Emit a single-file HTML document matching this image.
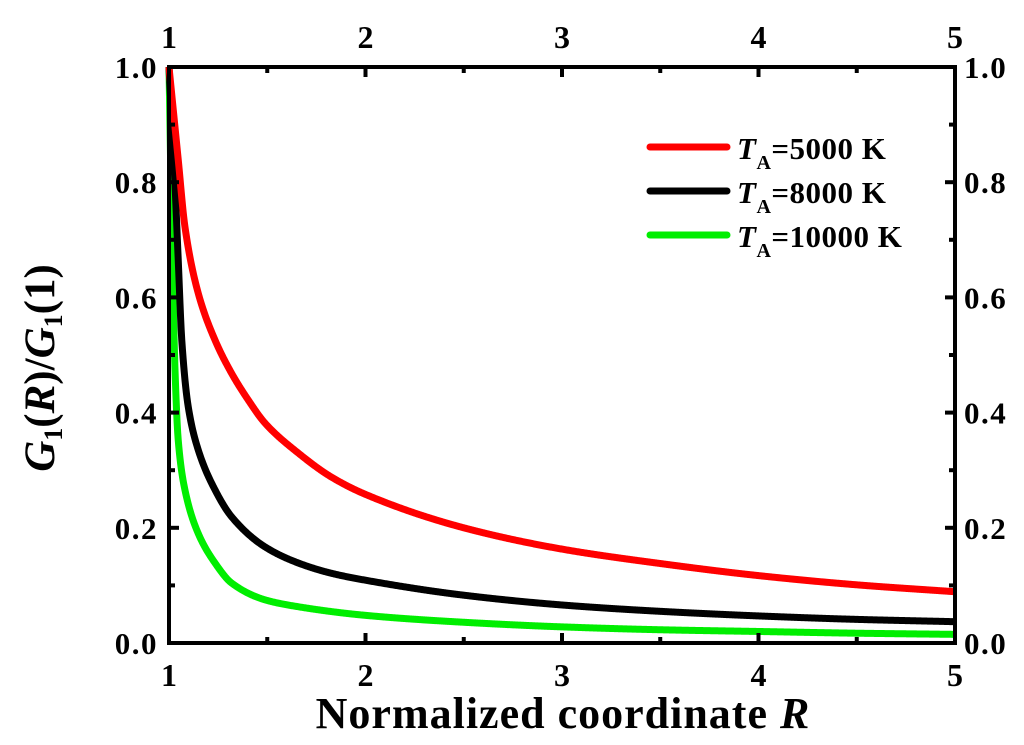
<!DOCTYPE html>
<html><head><meta charset="utf-8"><style>
body{margin:0;background:#fff}
svg{display:block;font-family:"Liberation Serif",serif;font-weight:bold}
</style></head><body>
<svg id="chart" width="1024" height="745" viewBox="0 0 1024 745" xmlns="http://www.w3.org/2000/svg">
<g id="series"></g>
<g id="axes"></g>
<g id="legend">
 <line x1="650" y1="147" x2="727" y2="147" stroke="#ff0000" stroke-width="7" stroke-linecap="round"/>
 <text x="737" y="159" font-size="31" letter-spacing="0.5"><tspan font-style="italic">T</tspan><tspan font-size="20" dy="10">A</tspan><tspan dy="-10">=5000 K</tspan></text>
 <line x1="650" y1="191" x2="727" y2="191" stroke="#000" stroke-width="7" stroke-linecap="round"/>
 <text x="737" y="203" font-size="31" letter-spacing="0.5"><tspan font-style="italic">T</tspan><tspan font-size="20" dy="10">A</tspan><tspan dy="-10">=8000 K</tspan></text>
 <line x1="650" y1="235" x2="727" y2="235" stroke="#00ee00" stroke-width="7" stroke-linecap="round"/>
 <text x="737" y="247" font-size="31" letter-spacing="0.5"><tspan font-style="italic">T</tspan><tspan font-size="20" dy="10">A</tspan><tspan dy="-10">=10000 K</tspan></text>
</g>
<text x="563" y="728" font-size="44" letter-spacing="1" text-anchor="middle">Normalized coordinate <tspan font-style="italic">R</tspan></text>
<text transform="translate(54,368) rotate(-90)" font-size="43" text-anchor="middle"><tspan font-style="italic">G</tspan><tspan font-size="26" dy="8">1</tspan><tspan dy="-8">(</tspan><tspan font-style="italic">R</tspan><tspan>)/</tspan><tspan font-style="italic">G</tspan><tspan font-size="26" dy="8">1</tspan><tspan dy="-8">(1)</tspan></text>
</svg>
<script>
const xTicks=[1,2,3,4,5];
const yTicks=[0,0.2,0.4,0.6,0.8,1.0];
const yTickLabels=["0.0","0.2","0.4","0.6","0.8","1.0"];
const xRed=[1,1.047,1.081,1.149,1.234,1.319,1.403,1.488,1.657,1.827,2,2.5,3,3.5,4,4.5,5];
const yRed=[1,0.839,0.723,0.607,0.526,0.468,0.422,0.382,0.33,0.288,0.258,0.2,0.163,0.138,0.117,0.101,0.089];
const xBlack=[1,1.015,1.03,1.047,1.065,1.098,1.149,1.234,1.319,1.488,1.657,1.827,2,2.5,3,3.5,4,4.5,5];
const yBlack=[1,0.9,0.8,0.665,0.526,0.41,0.335,0.266,0.219,0.167,0.139,0.121,0.109,0.083,0.066,0.055,0.047,0.041,0.037];
const xGreen=[1,1.01,1.02,1.03,1.047,1.081,1.149,1.234,1.319,1.488,1.657,2,2.5,3,3.5,4,4.5,5];
const yGreen=[1,0.8,0.62,0.48,0.352,0.266,0.19,0.139,0.104,0.075,0.063,0.048,0.036,0.028,0.023,0.02,0.017,0.015];
const L=169,R=955,T=67,B=643;
const xs=v=>L+(v-1)/4*(R-L);
const ys=v=>B-v*(B-T);
const NS="http://www.w3.org/2000/svg";
function mk(tag,parent,attrs){const e=document.createElementNS(NS,tag);for(const k in attrs)e.setAttribute(k,attrs[k]);parent.appendChild(e);return e;}
const ser=document.getElementById('series');
function path(xa,ya){
 const n=xa.length,d=[],m=new Array(n);
 for(let i=0;i<n-1;i++)d.push((ya[i+1]-ya[i])/(xa[i+1]-xa[i]));
 m[0]=d[0];m[n-1]=d[n-2];
 for(let i=1;i<n-1;i++){if(d[i-1]*d[i]<=0)m[i]=0;else{const w1=2*(xa[i+1]-xa[i])+(xa[i]-xa[i-1]),w2=(xa[i+1]-xa[i])+2*(xa[i]-xa[i-1]);m[i]=(w1+w2)/(w1/d[i-1]+w2/d[i]);}}
 let s=`M${xs(xa[0])},${ys(ya[0])}`;
 for(let i=0;i<n-1;i++){const h=xa[i+1]-xa[i];const N=Math.max(4,Math.ceil(h*300));
  for(let k=1;k<=N;k++){const t=k/N,t2=t*t,t3=t2*t;
   const y=(2*t3-3*t2+1)*ya[i]+(t3-2*t2+t)*h*m[i]+(-2*t3+3*t2)*ya[i+1]+(t3-t2)*h*m[i+1];
   s+=` L${xs(xa[i]+t*h).toFixed(2)},${ys(y).toFixed(2)}`;}}
 return s;}
[[xGreen,yGreen,'#00ee00','series-10000k'],[xBlack,yBlack,'#000','series-8000k'],[xRed,yRed,'#ff0000','series-5000k']].forEach(s=>{
 const e=mk('path',ser,{d:path(s[0],s[1]),fill:'none',stroke:s[2],'stroke-width':7,'stroke-linejoin':'round'});
 
 
});
const ax=document.getElementById('axes');
const frame=mk('rect',ax,{x:L,y:T,width:R-L,height:B-T,fill:'none',stroke:'#000','stroke-width':4});


for(let v=1;v<=5.001;v+=0.5){const x=xs(v);const len=(Math.abs(v-Math.round(v))<0.01)?10:6;
 mk('line',ax,{x1:x,y1:B,x2:x,y2:B-len,stroke:'#000','stroke-width':4});
 mk('line',ax,{x1:x,y1:T,x2:x,y2:T+len,stroke:'#000','stroke-width':4});}
for(let i=0;i<=10;i++){const v=i/10,y=ys(v),len=i%2?6:10;
 mk('line',ax,{x1:L,y1:y,x2:L+len,y2:y,stroke:'#000','stroke-width':4});
 mk('line',ax,{x1:R,y1:y,x2:R-len,y2:y,stroke:'#000','stroke-width':4});}
xTicks.forEach(v=>{
 const t=mk('text',ax,{x:xs(v),y:686,'font-size':32,'text-anchor':'middle'});t.textContent=v;
 
 
 const t2=mk('text',ax,{x:xs(v),y:48,'font-size':32,'text-anchor':'middle'});t2.textContent=v;
 
 
});
yTicks.forEach((v,i)=>{
 const t=mk('text',ax,{x:158,y:ys(v)+11,'font-size':31,'letter-spacing':1.5,'text-anchor':'end'});t.textContent=yTickLabels[i];
 
 
 const t2=mk('text',ax,{x:964,y:ys(v)+11,'font-size':31,'letter-spacing':1.5,'text-anchor':'start'});t2.textContent=yTickLabels[i];
 
 
});
</script>
</body></html>
